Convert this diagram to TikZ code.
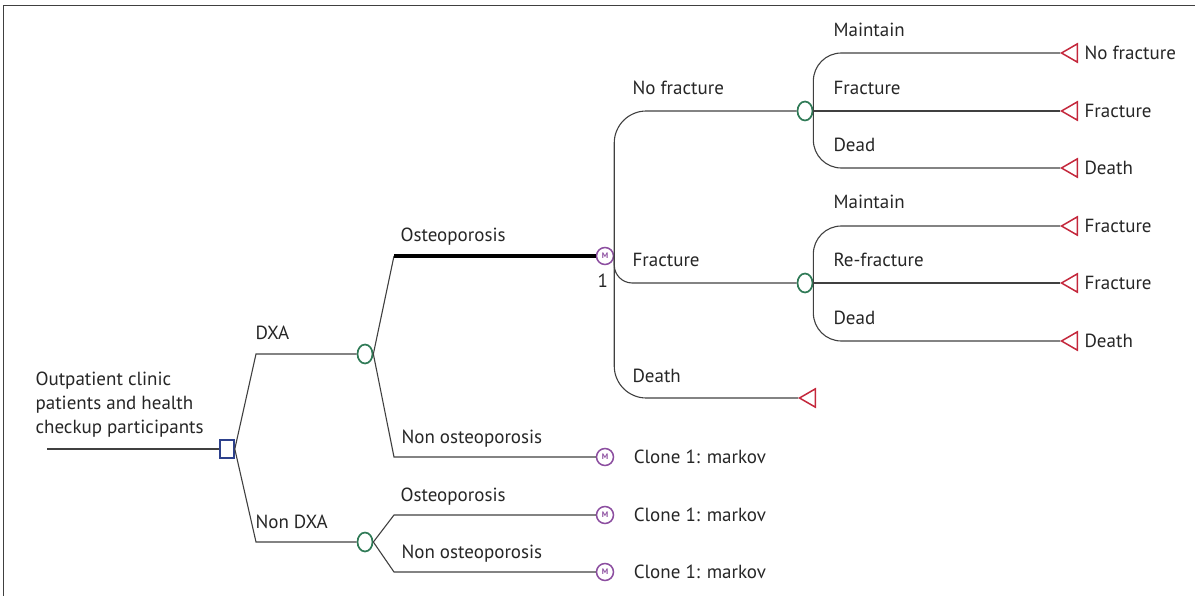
\documentclass[tikz,border=0pt]{standalone}
\usepackage{fontspec}
\setmainfont{PT Sans}
\usepackage{tikz}
\usetikzlibrary{positioning,shapes.geometric}
\definecolor{treeline}{RGB}{64,64,64}
\definecolor{chancegreen}{RGB}{47,122,86}
\definecolor{markovpurple}{RGB}{140,78,160}
\definecolor{termred}{RGB}{196,40,60}
\definecolor{decblue}{RGB}{45,65,140}

\begin{document}
\begin{tikzpicture}[x=1pt,y=-1pt,line width=1.1pt,draw=treeline,
				every node/.style={font=\fontsize{19}{24}\selectfont,text=black!85},
				decision/.style={draw=decblue,fill=white,line width=1.6pt,minimum width=14pt,minimum height=18pt,inner sep=0pt},
				chance/.style={ellipse,draw=chancegreen,fill=white,line width=1.7pt,minimum width=15pt,minimum height=19pt,inner sep=0pt},
				markov/.style={circle,draw=markovpurple,fill=white,line width=1.5pt,minimum size=17pt,inner sep=0pt,
					font=\fontsize{8}{8}\selectfont\bfseries,text=markovpurple},
				term/.style={regular polygon,regular polygon sides=3,shape border rotate=90,draw=termred,fill=white,
					line width=1.5pt,minimum size=21pt,inner sep=0pt},
				lbl/.style={anchor=base west,inner sep=0pt},
				txt/.style={anchor=west,inner sep=0pt}]
			\useasboundingbox (0,0) rectangle (1195,596);
			\draw[line width=1pt] (3,596) -- (3,6) -- (1195,6);

			% root
			\coordinate (start) at (47,449);
			\node[decision] (dec) at (227,449) {};
			\node[lbl,align=left] (root) at (35,433) {Outpatient clinic\\patients and health\\checkup participants};
			\draw (start) -- (dec);

			% DXA / Non DXA
			\node[chance] (cdxa) at (365,354) {};
			\node[chance] (cndxa) at (365,542) {};
			\coordinate (edxa) at (256,354);
			\coordinate (endxa) at (256,542);
			\draw (dec.east) -- (edxa) -- (cdxa.west);
			\draw (dec.east) -- (endxa) -- (cndxa.west);
			\node[lbl] (ldxa) at (255,340) {DXA};
			\node[lbl] (lndxa) at (255,528) {Non DXA};

			% markov nodes
			\node[markov] (m1) at (605,256) {M};
			\node[markov] (m2) at (605,457) {M};
			\node[markov] (m3) at (605,515) {M};
			\node[markov] (m4) at (605,572) {M};
			\node[inner sep=0pt,below left=11pt and -10pt of m1] (n1) {1};
			\node[txt,right=19pt of m2] (cl2) {Clone 1: markov};
			\node[txt,right=19pt of m3] (cl3) {Clone 1: markov};
			\node[txt,right=19pt of m4] (cl4) {Clone 1: markov};

			\coordinate (eost) at (394,256);
			\coordinate (enost) at (394,457);
			\coordinate (eost2) at (394,515);
			\coordinate (enost2) at (394,572);
			\draw (cdxa.east) -- (eost);
			\draw[line width=3.6pt,draw=black] (eost) -- (m1.west);
			\draw (cdxa.east) -- (enost) -- (m2.west);
			\draw (cndxa.east) -- (eost2) -- (m3.west);
			\draw (cndxa.east) -- (enost2) -- (m4.west);
			\node[lbl] (lost) at (400,242) {Osteoporosis};
			\node[lbl] (lnost) at (401,443) {Non osteoporosis};
			\node[lbl] (lost2) at (400,501) {Osteoporosis};
			\node[lbl] (lnost2) at (401,558) {Non osteoporosis};

			% markov states
			\node[chance] (cnf) at (805,111) {};
			\node[chance] (cfr) at (805,283) {};
			\node[term] (td) at (810,398) {};
			\draw[rounded corners=32pt] (cnf.west) -| (m1.east) |- (td.west);
			\draw[rounded corners=18pt] (m1.east) |- (cfr.west);
			\node[lbl] (lnf) at (632,95) {No fracture};
			\node[lbl] (lfr) at (632,267) {Fracture};
			\node[lbl] (ldt) at (632,382) {Death};

			% transitions from no fracture
			\node[term] (t1) at (1072,53) {};
			\node[term] (t2) at (1072,111) {};
			\node[term] (t3) at (1072,168) {};
			\draw[rounded corners=28pt] (t1.west) -| (cnf.east) |- (t3.west);
			\draw (cnf.east) -- (t2.west);
			\node[lbl] (la1) at (833,37) {Maintain};
			\node[lbl] (la2) at (833,95) {Fracture};
			\node[lbl] (la3) at (833,152) {Dead};
			\node[txt,right=6pt of t1] (r1) {No fracture};
			\node[txt,right=6pt of t2] (r2) {Fracture};
			\node[txt,right=6pt of t3] (r3) {Death};

			% transitions from fracture
			\node[term] (t4) at (1072,226) {};
			\node[term] (t5) at (1072,283) {};
			\node[term] (t6) at (1072,341) {};
			\draw[rounded corners=28pt] (t4.west) -| (cfr.east) |- (t6.west);
			\draw (cfr.east) -- (t5.west);
			\node[lbl] (lb1) at (833,209) {Maintain};
			\node[lbl] (lb2) at (833,267) {Re-fracture};
			\node[lbl] (lb3) at (833,325) {Dead};
			\node[txt,right=6pt of t4] (r4) {Fracture};
			\node[txt,right=6pt of t5] (r5) {Fracture};
			\node[txt,right=6pt of t6] (r6) {Death};
		\end{tikzpicture}
\end{document}
